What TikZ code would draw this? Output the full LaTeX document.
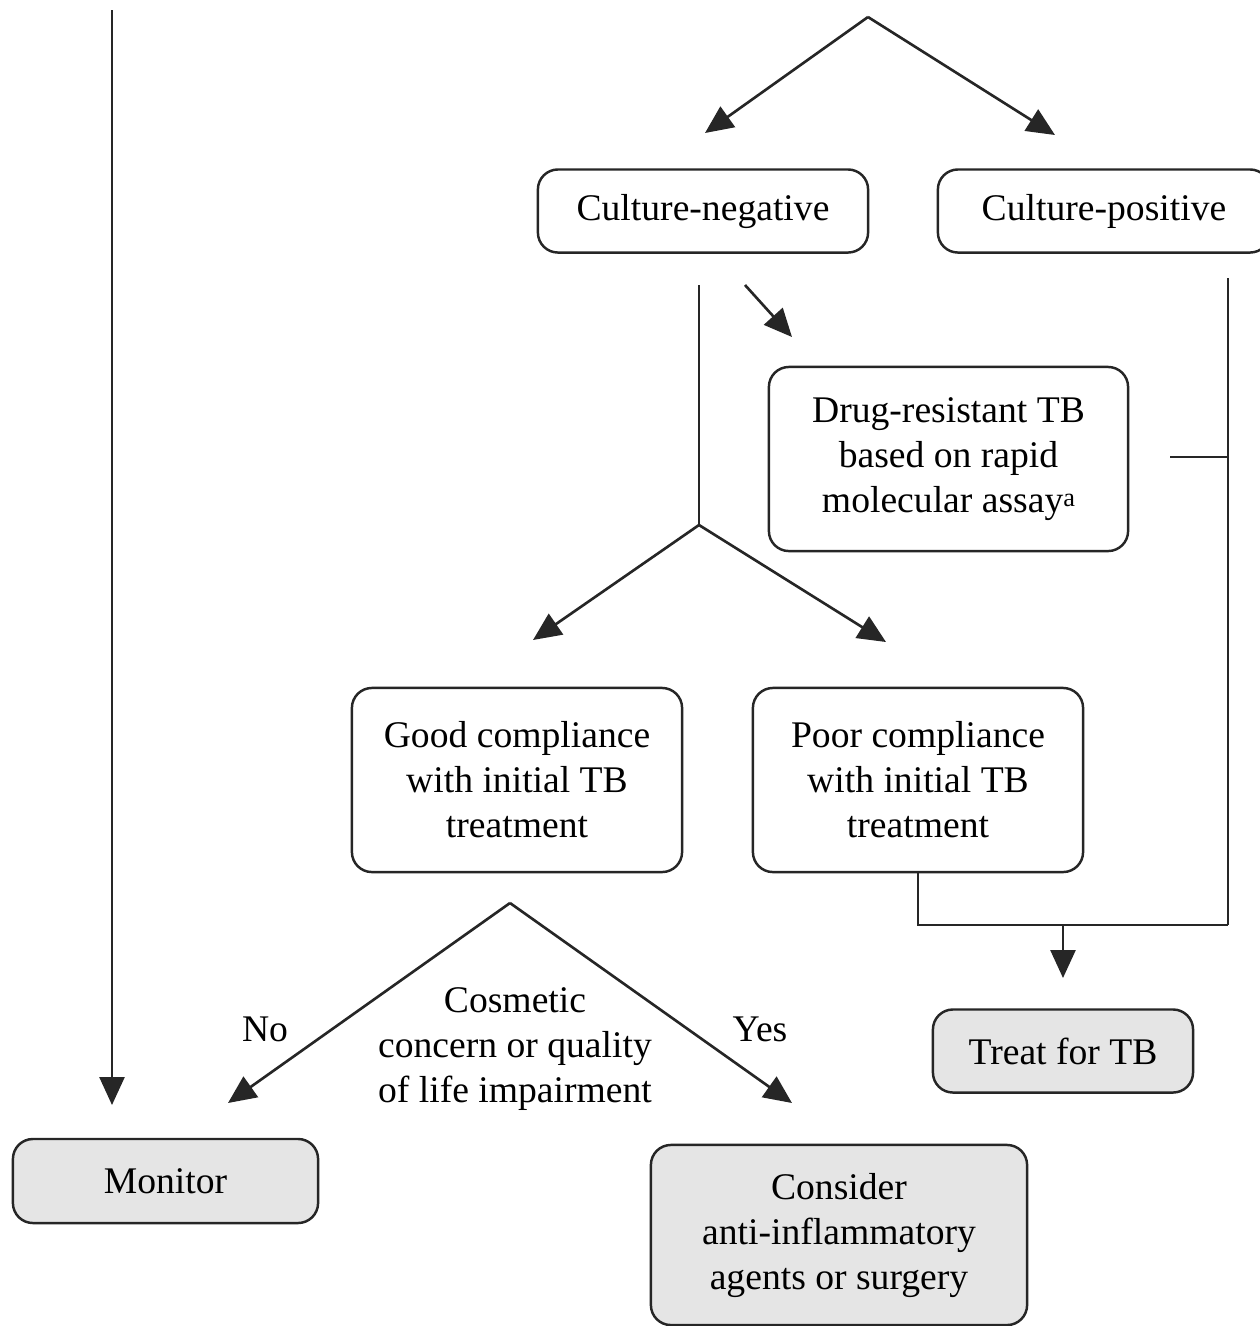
\documentclass[tikz,border=0pt]{standalone}
\usepackage{fontspec}
\setmainfont{Liberation Serif}
\usetikzlibrary{arrows.meta}
\begin{document}
\begin{tikzpicture}[x=0.01cm,y=-0.01cm,font=\fontsize{10.7}{12.8}\selectfont,
  box/.style={draw=black!85, line width=0.7pt, rounded corners=0.2cm, align=center, inner sep=0pt},
  endbox/.style={box, fill=gray!20},
  arr/.style={draw=black!85, line width=0.75pt, -{Triangle[length=0.28cm,width=0.25cm]}},
  link/.style={draw=black!85, line width=0.75pt}]
  \useasboundingbox (0,0) rectangle (1259,1326);
  % boxes
  \node[box, minimum width=3.3cm, minimum height=0.83cm] (cneg) at (703,211) {Culture-negative};
  \node[box, minimum width=3.32cm, minimum height=0.83cm] (cpos) at (1104,211) {Culture-positive};
  \node[box, minimum width=3.59cm, minimum height=1.84cm] (drug) at (948.5,459) {Drug-resistant TB\\based on rapid\\molecular assay{\fontsize{7.5}{9}\selectfont\raisebox{0.5ex}{a}}};
  \node[box, minimum width=3.3cm, minimum height=1.84cm] (good) at (517,780) {Good compliance\\with initial TB\\treatment};
  \node[box, minimum width=3.3cm, minimum height=1.84cm] (poor) at (918,780) {Poor compliance\\with initial TB\\treatment};
  \node[endbox, minimum width=2.6cm, minimum height=0.83cm] (treat) at (1063,1051) {Treat for TB};
  \node[endbox, minimum width=3.05cm, minimum height=0.84cm] (monitor) at (165.5,1181) {Monitor};
  \node[endbox, minimum width=3.76cm, minimum height=1.8cm] (consider) at (839,1235) {Consider\\anti-inflammatory\\agents or surgery};
  % free ends
  \coordinate (top) at (868,17);
  \coordinate (tonegtip) at (705,133);
  \coordinate (topostip) at (1055,135);
  \coordinate (lefttop) at (112,10);
  \coordinate (lefttip) at (112,1105);
  \coordinate (negdown) at (699,285);
  \coordinate (negfork) at (699,525);
  \coordinate (goodtip) at (533,640);
  \coordinate (poortip) at (886,642);
  \coordinate (drugtail) at (745,285);
  \coordinate (drugtip) at (792,337);
  \coordinate (posdown) at (1228,278);
  \coordinate (join) at (1228,925);
  \coordinate (drugstub) at (1170,457);
  \coordinate (stubend) at (1228,457);
  \coordinate (poorbend) at (918,925);
  \coordinate (treattail) at (1063,925);
  \coordinate (treattip) at (1063,978);
  \coordinate (cosfork) at (510,903);
  \coordinate (notip) at (228,1103);
  \coordinate (yestip) at (792,1103);
  % connectors
  \draw[arr] (lefttop) -- (lefttip);
  \draw[arr] (top) -- (tonegtip);
  \draw[arr] (top) -- (topostip);
  \draw[link] (negdown) -- (negfork);
  \draw[arr] (negfork) -- (goodtip);
  \draw[arr] (negfork) -- (poortip);
  \draw[arr] (drugtail) -- (drugtip);
  \draw[link] (posdown) -- (join);
  \draw[link] (drugstub) -- (stubend);
  \draw[link] (poor.south) -- (poorbend) -- (join);
  \draw[arr] (treattail) -- (treattip);
  \draw[arr] (cosfork) -- (notip);
  \draw[arr] (cosfork) -- (yestip);
  % labels
  \node (no) at (265,1029) {No};
  \node (yes) at (760,1029) {Yes};
  \node[align=center] (cosmetic) at (515,1049) {Cosmetic\\concern or quality\\of life impairment};
\end{tikzpicture}
\end{document}
